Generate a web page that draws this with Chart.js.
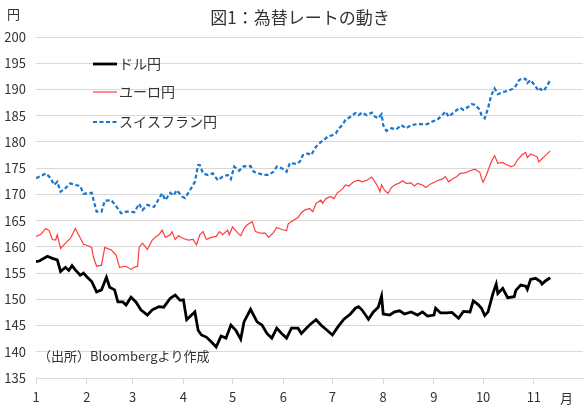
<!DOCTYPE html>
<html>
<head>
<meta charset="utf-8">
<script src="https://cdn.jsdelivr.net/npm/chart.js@4"></script>
<style>
  html, body { margin: 0; padding: 0; background: #fff; }
  #wrap { width: 587px; height: 408px; }
</style>
</head>
<body>
<div id="wrap"><canvas id="fxChart" width="587" height="408"></canvas></div>
<script>
// day-of-year (Jan 1 = 0), 2025
const monthStarts = [0, 31, 59, 90, 120, 151, 181, 212, 243, 273, 304];
const monthLabels = ["1", "2", "3", "4", "5", "6", "7", "8", "9", "10", "11"];

const usdDays = [0,2,7,10,13,15,18,20,22,24,27,29,31,34,37,40,43,45,48,50,53,55,58,61,64,68,71,75,78,82,85,88,90,92,95,97,99,101,104,107,110,113,116,119,122,125,127,131,135,138,141,144,147,150,153,156,160,162,167,171,174,177,181,184,188,192,195,197,199,203,206,209,211,212,216,219,222,225,229,233,236,239,243,244,247,251,254,258,261,265,267,270,272,274,276,279,281,282,285,288,292,293,296,299,300,302,305,308,309,311,314];
const usdRates = [157.2,157.3,158.2,157.8,157.5,155.3,156.1,155.5,156.4,155.6,154.6,155.0,154.3,153.4,151.4,151.8,154.2,152.3,151.8,149.5,149.5,148.9,150.4,149.5,148.0,147.0,148.0,148.6,148.5,150.2,150.8,149.8,149.9,146.1,147.0,147.6,144.1,143.2,142.8,141.9,140.9,143.0,142.6,145.1,144.1,142.4,145.7,148.1,145.7,145.1,143.5,142.6,144.5,143.5,142.6,144.5,144.5,143.5,145.1,146.1,145.1,144.3,143.2,144.6,146.2,147.2,148.3,148.6,148.0,146.2,147.6,148.5,150.6,147.2,147.0,147.6,147.8,147.2,147.6,147.0,147.6,146.8,147.0,148.3,147.4,147.4,147.5,146.4,147.7,147.6,149.7,149.0,148.3,146.9,147.6,151.1,152.9,151.1,152.1,150.3,150.5,151.7,152.7,152.5,151.9,153.8,154.0,153.4,152.9,153.5,154.1];

const eurDays = [0,3,6,8,10,12,13,15,18,21,24,26,29,31,34,35,37,40,42,46,49,50,51,55,58,60,62,63,65,68,71,73,75,77,79,82,83,85,87,90,93,96,98,100,102,104,107,110,112,114,117,118,120,123,125,127,129,132,134,137,140,142,145,147,150,153,154,157,160,162,164,167,169,171,174,175,177,180,182,184,187,189,191,194,197,199,202,205,207,209,210,211,213,215,217,219,222,224,226,229,231,233,236,238,241,245,248,250,252,254,257,259,262,265,268,271,272,273,275,278,280,282,285,287,290,292,294,297,299,300,302,304,306,307,309,311,314];
const eurRates = [162.0,162.4,163.5,163.1,161.4,161.3,162.3,159.7,160.7,161.6,163.5,162.3,160.5,160.3,159.9,158.1,156.3,156.5,159.9,159.4,158.4,157.2,156.1,156.3,155.7,156.1,156.3,159.9,160.7,159.5,161.3,161.9,162.3,163.2,161.8,162.3,162.9,161.4,162.1,161.6,161.3,161.4,160.4,162.3,162.9,161.4,161.8,162.0,162.9,162.3,163.2,162.3,163.8,162.7,162.1,163.5,164.2,164.8,162.9,162.6,162.6,161.8,162.7,163.7,163.3,163.1,164.4,165.0,165.6,166.5,167.0,167.3,166.7,168.3,168.9,168.3,169.2,169.6,169.2,170.3,171.0,171.8,171.6,172.4,172.7,172.4,172.7,173.3,172.4,171.3,170.5,171.8,170.7,170.2,171.3,171.8,172.2,172.6,172.1,172.2,171.6,172.1,171.8,171.3,172.0,172.6,172.9,173.4,172.4,172.9,173.4,174.0,174.1,174.5,174.8,174.2,173.1,172.3,173.7,176.2,177.4,175.9,176.1,175.7,175.3,175.5,176.6,177.6,178.0,177.0,177.7,177.4,177.2,176.2,176.8,177.4,178.3];

const chfDays = [0,3,6,9,11,13,15,18,21,24,27,29,31,34,37,40,42,46,49,52,55,58,60,63,65,68,72,74,77,79,82,84,86,89,91,94,97,99,100,102,105,108,111,114,117,119,121,124,127,129,131,133,136,139,142,145,147,150,153,155,159,161,163,166,168,171,174,176,178,181,183,185,187,189,192,195,197,199,202,205,207,209,211,212,214,217,220,223,226,229,233,236,239,242,245,248,250,252,255,257,259,261,264,266,268,271,272,274,276,278,280,282,285,288,291,293,295,297,299,300,302,304,307,308,310,312,314];
const chfRates = [173.1,173.5,174.0,173.1,171.8,172.4,170.5,171.2,172.1,171.8,171.6,170.1,170.2,170.3,166.7,166.7,168.8,168.9,167.7,166.4,166.7,166.7,166.6,168.2,167.0,168.0,167.6,168.6,170.2,168.9,170.3,169.8,170.8,169.6,169.3,170.8,172.4,175.6,175.6,174.0,173.7,174.0,172.7,173.4,173.7,172.9,175.3,174.5,175.4,175.3,175.4,174.3,174.0,173.7,173.7,174.3,175.3,175.0,174.3,176.0,175.8,176.2,177.5,177.8,177.5,179.1,180.0,180.4,181.0,181.3,181.6,182.6,183.2,184.2,184.8,185.5,185.1,185.6,185.1,185.6,184.8,184.5,185.3,183.2,182.1,182.6,182.4,183.2,182.6,183.2,183.4,183.4,183.4,183.9,184.2,185.1,185.8,184.8,185.6,186.1,186.5,186.1,186.7,187.2,187.1,186.1,185.1,184.5,186.4,188.9,190.2,189.1,189.5,189.7,190.1,190.7,191.8,192.1,192.0,191.2,191.8,191.0,189.7,190.1,189.7,190.7,191.8];

const seriesNames = ["ドル円", "ユーロ円", "スイスフラン円"];

const toXY = (days, vals) => days.map((d, i) => ({ x: d, y: vals[i] }));

const FONT = "'Noto Sans CJK JP', 'Noto Sans', sans-serif";
Chart.defaults.font.family = FONT;
Chart.defaults.color = "#333";

const lineStyles = [
  { color: "#000000", width: 2.8, dash: [] },
  { color: "#ff3b3b", width: 1.2, dash: [] },
  { color: "#1a75cf", width: 2.2, dash: [4, 2.5] }
];

// title, unit labels, legend and source note drawn on top
const annotations = {
  id: "annotations",
  afterDraw(chart) {
    const ctx = chart.ctx;
    ctx.save();
    ctx.fillStyle = "#333";
    ctx.textBaseline = "middle";

    ctx.font = "17px " + FONT;
    ctx.textAlign = "center";
    ctx.fillText("図1：為替レートの動き", 300, 18);

    ctx.font = "13px " + FONT;
    ctx.textAlign = "left";
    ctx.fillText("円", 7, 14);
    ctx.fillText("月", 560, 398);
    ctx.fillText("（出所）Bloombergより作成", 38, 356);

    const legendY = [64, 92, 122];
    ctx.font = "14px " + FONT;
    seriesNames.forEach((name, i) => {
      const st = lineStyles[i];
      ctx.beginPath();
      ctx.strokeStyle = st.color;
      ctx.lineWidth = st.width;
      ctx.setLineDash(st.dash);
      ctx.moveTo(93, legendY[i]);
      ctx.lineTo(117, legendY[i]);
      ctx.stroke();
      ctx.setLineDash([]);
      ctx.fillStyle = "#333";
      ctx.fillText(name, 119, legendY[i]);
    });
    ctx.restore();
  }
};

new Chart(document.getElementById("fxChart"), {
  type: "line",
  data: {
    datasets: [
      { label: seriesNames[0], data: toXY(usdDays, usdRates) },
      { label: seriesNames[1], data: toXY(eurDays, eurRates) },
      { label: seriesNames[2], data: toXY(chfDays, chfRates) }
    ].map((ds, i) => Object.assign(ds, {
      borderColor: lineStyles[i].color,
      borderWidth: lineStyles[i].width,
      borderDash: lineStyles[i].dash,
      pointRadius: 0,
      tension: 0,
      fill: false
    }))
  },
  options: {
    responsive: false,
    animation: false,
    layout: { padding: { top: 37, right: 4, left: 0, bottom: 0 } },
    plugins: {
      legend: { display: false },
      title: { display: false },
      tooltip: { enabled: false }
    },
    scales: {
      x: {
        type: "linear",
        min: 0, max: 334,
        afterBuildTicks: axis => { axis.ticks = monthStarts.map(v => ({ value: v })); },
        afterFit: s => { s.height = 30; },
        ticks: {
          autoSkip: false, maxRotation: 0, padding: 5,
          font: { size: 13 }, color: "#333",
          callback: (v, i) => monthLabels[i]
        },
        grid: { drawOnChartArea: false, drawTicks: true, tickLength: 6, color: "#d9d9d9" },
        border: { display: true, color: "#d9d9d9" }
      },
      y: {
        min: 135, max: 200,
        afterFit: s => { s.width = 36; },
        ticks: { stepSize: 5, padding: 10, font: { size: 13 }, color: "#333" },
        grid: { color: "#d9d9d9", drawTicks: false },
        border: { display: false }
      }
    }
  },
  plugins: [annotations]
});
</script>
</body>
</html>
